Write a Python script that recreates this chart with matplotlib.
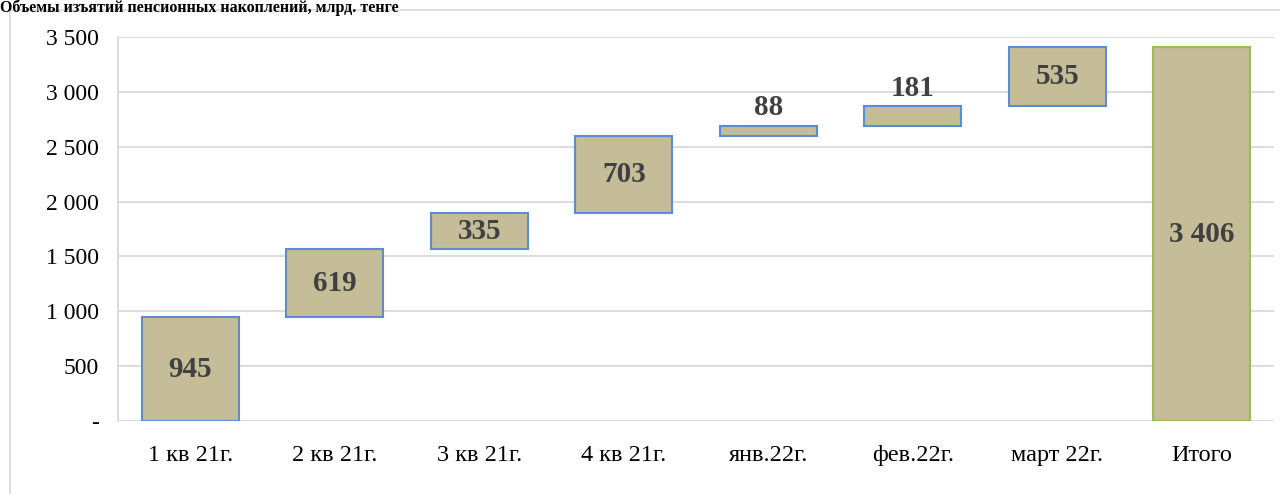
import matplotlib
matplotlib.use("Agg")
from matplotlib import pyplot as plt
from matplotlib.lines import Line2D
import numpy as np

categories = ["1 кв 21г.", "2 кв 21г.", "3 кв 21г.", "4 кв 21г.", "янв.22г.", "фев.22г.", "март 22г.", "Итого"]
steps = [945, 619, 335, 703, 88, 181, 535]
total = 3406
title = "Объемы изъятий пенсионных накоплений, млрд. тенге"

plt.rcParams['font.family'] = ['Liberation Serif', 'DejaVu Serif']

fig = plt.figure(figsize=(12.8, 4.94), dpi=100)
ax = fig.add_axes([118/1280, 1-421/494, (1274-118)/1280, (421-37)/494])

bottoms = np.concatenate([[0], np.cumsum(steps)[:-1]])
x = np.arange(len(categories))
fill = "#C4BD97"
ax.bar(x[:-1], steps, bottom=bottoms, width=0.67, color=fill, edgecolor="#5B8DD0", linewidth=1.5, zorder=3)
ax.bar(x[-1], total, width=0.67, color=fill, edgecolor="#9BBB59", linewidth=1.5, zorder=3)

lab_kw = dict(ha="center", fontsize=21, fontweight="bold", color="#404040", zorder=4)
for xi, b, v in zip(x[:-1], bottoms, steps):
    if v < 300:
        ax.text(xi, b + v + 40, f"{v}", va="bottom", **lab_kw)
    else:
        ax.text(xi, b + v / 2, f"{v}", va="center", **lab_kw)
ax.text(x[-1], total / 2, f"{total:,}".replace(",", " "), va="center", **lab_kw)

ax.set_xlim(-0.5, len(categories) - 0.5)
ax.set_ylim(0, 3500)
ticks = np.arange(0, 3501, 500)
ax.set_yticks(ticks, ["-" if t == 0 else f"{t:,}".replace(",", " ") for t in ticks])
ax.set_xticks(x, categories)
ax.tick_params(axis="both", length=0, colors="black")
ax.tick_params(axis="y", pad=14, labelsize=17)
ax.tick_params(axis="x", pad=17, labelsize=17.5)
ax.grid(axis="y", color="#D9D9D9", linewidth=1.3, zorder=0)
for s in ["top", "right", "bottom"]:
    ax.spines[s].set_visible(False)
ax.spines["left"].set_color("#D9D9D9")
ax.spines["left"].set_linewidth(1.3)

# outer chart frame
fig.add_artist(Line2D([10/1280, 10/1280, 1.0], [0.0, 1-10/494, 1-10/494], transform=fig.transFigure, color="#D9D9D9", linewidth=1.2))
fig.text(0.0, 1.0, title, ha="left", va="top", fontsize=11.5, fontweight="bold")

fig.savefig("out.png", dpi=100)
